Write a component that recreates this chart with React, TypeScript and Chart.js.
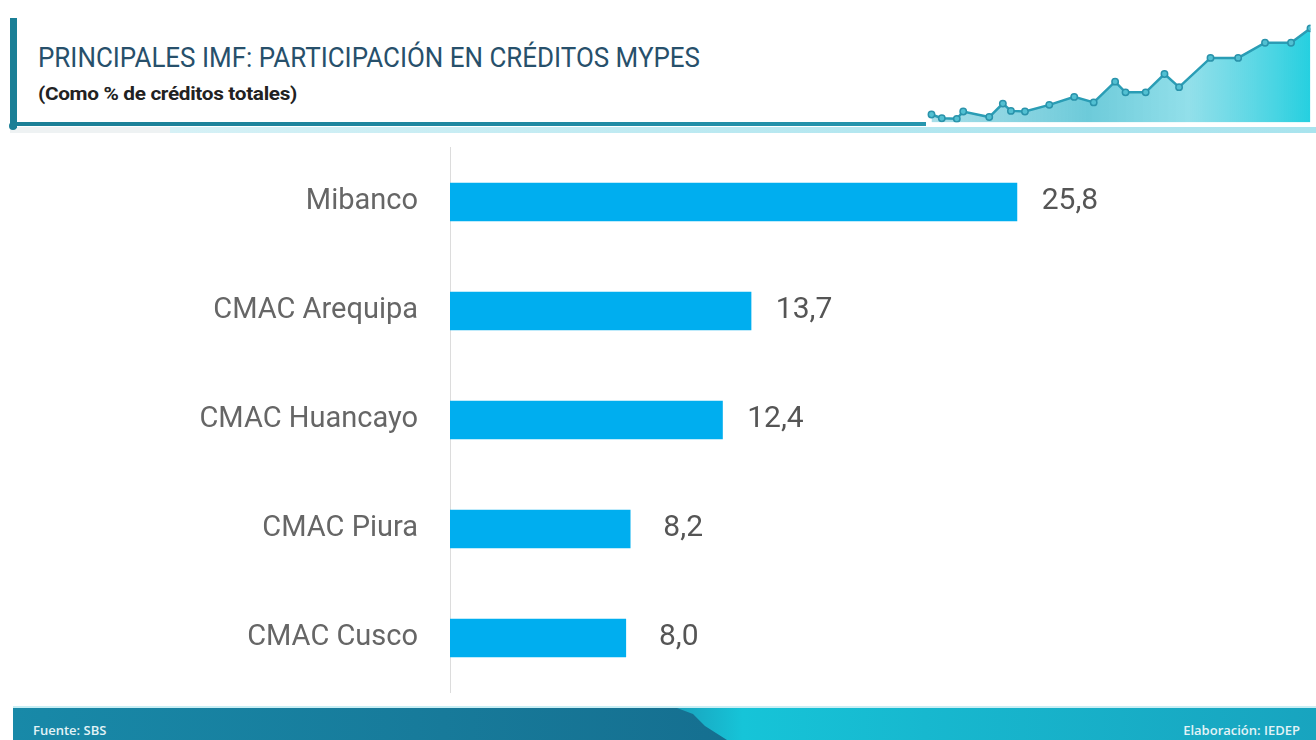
import React, { useEffect, useLayoutEffect, useRef } from "react";
import { Chart, registerables } from "chart.js";

Chart.register(...registerables);

// ---- Data ----
const categories = ["Mibanco", "CMAC Arequipa", "CMAC Huancayo", "CMAC Piura", "CMAC Cusco"];
const shares = [25.8, 13.7, 12.4, 8.2, 8.0];

// decorative trend line in the header (period index, level)
const decoPeriods = [2.67, 3.73, 5.27, 5.93, 8.6, 10.0, 10.83, 12.27, 14.77, 17.33, 19.33, 21.53, 22.6, 24.67, 26.6, 28.1, 31.33, 34.17, 36.93, 39.6, 41.6];
const decoLevels = [8.7, 4.7, 4, 12, 6, 20.7, 12.7, 12, 19.3, 28, 22, 44.7, 33, 33, 53, 38.7, 70.7, 70.7, 87.3, 87.3, 103];

const fmt = (v: number) => v.toFixed(1).replace(".", ",");

const valueLabels = {
  id: "valueLabels",
  afterDatasetsDraw(chart: any) {
    const ctx = chart.ctx;
    const meta = chart.getDatasetMeta(0);
    ctx.save();
    ctx.font = "30px Roboto";
    ctx.fillStyle = "#555";
    ctx.textAlign = "center";
    ctx.textBaseline = "alphabetic";
    meta.data.forEach((bar: any, i: number) => {
      ctx.fillText(fmt(shares[i]), bar.x + 53, bar.y + 7);
    });
    ctx.restore();
  },
};

function FitText(props: { text: string; width: number; style: React.CSSProperties }) {
  const ref = useRef<HTMLSpanElement>(null);
  useLayoutEffect(() => {
    const el = ref.current;
    if (!el) return;
    el.style.transform = "none";
    const w = el.getBoundingClientRect().width;
    if (w > 0) el.style.transform = `scaleX(${props.width / w})`;
  }, [props.text, props.width]);
  return (
    <span
      ref={ref}
      style={{ ...props.style, position: "absolute", whiteSpace: "nowrap", transformOrigin: "left top", display: "inline-block" }}
    >
      {props.text}
    </span>
  );
}

export default function App() {
  const barRef = useRef<HTMLCanvasElement>(null);
  const decoRef = useRef<HTMLCanvasElement>(null);

  useEffect(() => {
    if (!barRef.current || !decoRef.current) return;
    const bar = new Chart(barRef.current, {
      type: "bar",
      data: {
        labels: categories,
        datasets: [
          {
            data: shares,
            backgroundColor: "#00aeef",
            barThickness: 38,
          },
        ],
      },
      options: {
        indexAxis: "y",
        animation: false,
        responsive: false,
        maintainAspectRatio: false,
        layout: { padding: { top: 7.5, bottom: 7.5, right: 31, left: 0 } },
        plugins: { legend: { display: false }, tooltip: { enabled: false } },
        scales: {
          x: { display: false, min: 0, max: 38 },
          y: {
            afterFit: (s: any) => {
              s.width = 450;
              s.paddingTop = 0;
              s.paddingBottom = 0;
            },
            grid: { display: false, drawTicks: false },
            border: { display: true, color: "#dcdcdc", width: 1 },
            ticks: {
              color: "#666",
              font: { family: "Roboto", size: 29 },
              padding: 32,
            },
          },
        },
      },
      plugins: [valueLabels],
    });

    const deco = new Chart(decoRef.current, {
      type: "line",
      data: {
        datasets: [
          {
            data: decoPeriods.map((p, i) => ({ x: p, y: decoLevels[i] })),
            borderColor: "#2a9db5",
            borderWidth: 2.5,
            pointRadius: 3.2,
            pointBackgroundColor: "#52c0d2",
            pointBorderColor: "#2a93ab",
            pointBorderWidth: 1.5,
            tension: 0,
            fill: "origin",
            backgroundColor: (c: any) => {
              const { chart } = c;
              const { ctx, chartArea } = chart;
              if (!chartArea) return "rgba(60,200,215,0.5)";
              const g = ctx.createLinearGradient(chartArea.left, 0, chartArea.right, 0);
              g.addColorStop(0, "rgba(110,200,218,0.55)");
              g.addColorStop(0.45, "rgba(60,185,205,0.75)");
              g.addColorStop(0.7, "rgba(100,210,225,0.7)");
              g.addColorStop(1, "rgba(25,205,222,0.95)");
              return g;
            },
          },
        ],
      },
      options: {
        animation: false,
        responsive: false,
        maintainAspectRatio: false,
        layout: { padding: 0 },
        plugins: { legend: { display: false }, tooltip: { enabled: false } },
        scales: {
          x: { type: "linear", display: false, min: 0, max: 41.6 },
          y: { display: false, min: 0, max: 128 },
        },
      },
    });

    return () => {
      bar.destroy();
      deco.destroy();
    };
  }, []);

  return (
    <div style={{ position: "absolute", left: 0, top: 0, width: 1316, height: 740, background: "#fff", overflow: "hidden" }}>
      {/* header */}
      <div style={{ position: "absolute", left: 10, top: 127, width: 160, height: 6, background: "#eef2f3" }} />
      <div style={{ position: "absolute", left: 170, top: 127, width: 1146, height: 6, background: "linear-gradient(to right, #d6f1f6, #b4e7f0 60%, #a9e4ee)" }} />
      <canvas ref={decoRef} width={416} height={128} style={{ position: "absolute", left: 900, top: 0, width: 416, height: 128 }} />
      <div style={{ position: "absolute", left: 10, top: 18, width: 7, height: 110, background: "#1b7f96" }} />
      <div style={{ position: "absolute", left: 10, top: 122, width: 916, height: 4, background: "linear-gradient(to right, #1b7f96, #1f8aa3 60%, #2596ae)" }} />
      <div style={{ position: "absolute", left: 9, top: 122, width: 8, height: 8, borderRadius: 4, background: "#1b7f96" }} />
      <FitText
        text="PRINCIPALES IMF: PARTICIPACIÓN EN CRÉDITOS MYPES"
        width={662}
        style={{ left: 38, top: 44, fontFamily: "Roboto", fontSize: 28, lineHeight: "28px", color: "#27506b" }}
      />
      <FitText
        text="(Como % de créditos totales)"
        width={259}
        style={{ left: 38, top: 84, fontFamily: "Roboto", fontWeight: 700, fontSize: 19, lineHeight: "20px", color: "#222", letterSpacing: "-0.3px" }}
      />

      {/* bar chart */}
      <canvas ref={barRef} width={1316} height={560} style={{ position: "absolute", left: 0, top: 140, width: 1316, height: 560 }} />

      {/* footer */}
      <div style={{ position: "absolute", left: 13, top: 706, width: 1303, height: 2, background: "#c8eef4" }} />
      <div
        style={{
          position: "absolute",
          left: 13,
          top: 708,
          width: 1303,
          height: 32,
          background: "linear-gradient(to right, #1a9cb8 0%, #1a9cb8 50%, #16c4d8 56%, #17b8cf 70%, #18a4bf 100%)",
        }}
      />
      <div
        style={{
          position: "absolute",
          left: 13,
          top: 708,
          width: 720,
          height: 32,
          background: "linear-gradient(to right, #1889a8, #177a9a 60%, #156f90)",
          clipPath: "polygon(0 0, 664px 0, 680px 6px, 692px 18px, 714px 32px, 0 32px)",
        }}
      />
      <div style={{ position: "absolute", left: 33, top: 722, fontFamily: "'Open Sans'", fontSize: 13, lineHeight: "16px", color: "#e3f3f7", fontWeight: 600 }}>
        Fuente: SBS
      </div>
      <div style={{ position: "absolute", right: 16, top: 722, fontFamily: "'Open Sans'", fontSize: 13, lineHeight: "16px", color: "#e3f3f7", fontWeight: 600 }}>
        Elaboración: IEDEP
      </div>
    </div>
  );
}
